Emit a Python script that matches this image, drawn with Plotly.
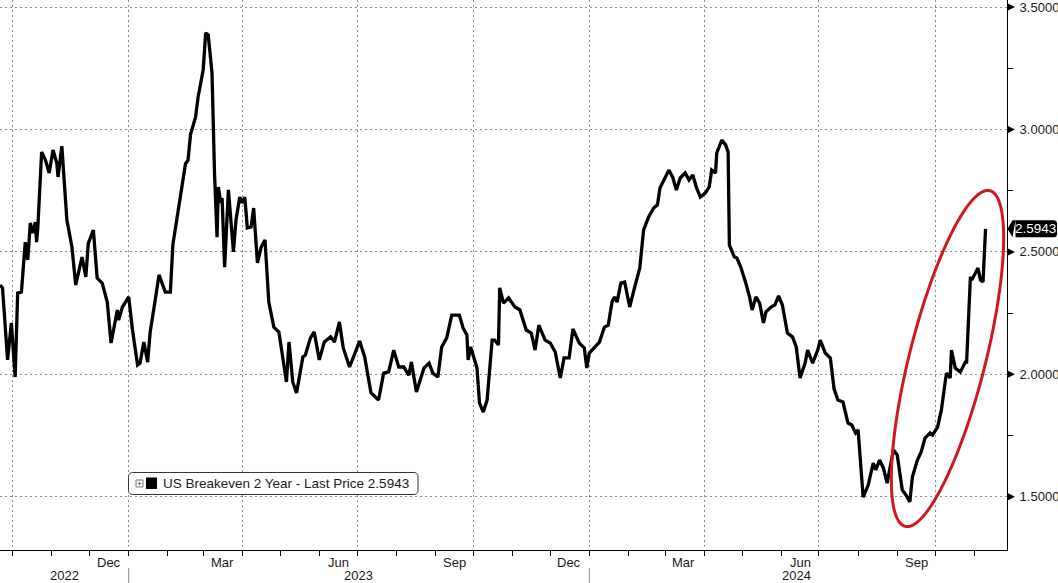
import numpy as np
import pandas as pd
import plotly.graph_objects as go

# ---------------- data ----------------
dates = [
    "2022-09-21", "2022-09-23", "2022-09-27", "2022-09-30", "2022-10-03", "2022-10-05", "2022-10-08",
    "2022-10-11", "2022-10-13", "2022-10-15", "2022-10-17", "2022-10-19", "2022-10-20", "2022-10-21",
    "2022-10-24", "2022-10-27", "2022-10-30", "2022-11-02", "2022-11-05", "2022-11-06", "2022-11-09",
    "2022-11-13", "2022-11-17", "2022-11-20", "2022-11-25", "2022-11-28", "2022-11-30", "2022-12-04",
    "2022-12-07", "2022-12-11", "2022-12-15", "2022-12-18", "2022-12-23", "2022-12-24", "2022-12-27",
    "2023-01-01", "2023-01-04", "2023-01-08", "2023-01-10", "2023-01-13", "2023-01-16", "2023-01-18",
    "2023-01-22", "2023-01-25", "2023-01-30", "2023-02-03", "2023-02-05", "2023-02-08", "2023-02-11",
    "2023-02-15", "2023-02-17", "2023-02-19", "2023-02-23", "2023-02-25", "2023-03-01", "2023-03-03",
    "2023-03-05", "2023-03-08", "2023-03-10", "2023-03-12", "2023-03-13", "2023-03-15", "2023-03-16",
    "2023-03-18", "2023-03-21", "2023-03-25", "2023-03-27", "2023-03-30", "2023-04-01", "2023-04-03",
    "2023-04-05", "2023-04-08", "2023-04-10", "2023-04-13", "2023-04-16", "2023-04-19", "2023-04-22",
    "2023-04-26", "2023-04-30", "2023-05-06", "2023-05-08", "2023-05-11", "2023-05-14", "2023-05-19",
    "2023-05-21", "2023-05-25", "2023-05-28", "2023-06-01", "2023-06-05", "2023-06-10", "2023-06-13",
    "2023-06-17", "2023-06-20", "2023-06-25", "2023-07-03", "2023-07-07", "2023-07-12", "2023-07-18",
    "2023-07-22", "2023-07-26", "2023-07-30", "2023-08-03", "2023-08-07", "2023-08-11", "2023-08-13",
    "2023-08-17", "2023-08-23", "2023-08-27", "2023-08-30", "2023-09-03", "2023-09-06", "2023-09-10",
    "2023-09-14", "2023-09-18", "2023-09-20", "2023-09-23", "2023-09-26", "2023-09-27", "2023-09-29",
    "2023-10-04", "2023-10-06", "2023-10-09", "2023-10-12", "2023-10-16", "2023-10-18", "2023-10-21",
    "2023-10-22", "2023-10-25", "2023-10-29", "2023-11-03", "2023-11-07", "2023-11-12", "2023-11-16",
    "2023-11-19", "2023-11-22", "2023-11-27", "2023-12-01", "2023-12-05", "2023-12-09", "2023-12-12",
    "2023-12-16", "2023-12-19", "2023-12-24", "2023-12-28", "2023-12-30",
    "2024-01-01", "2024-01-05", "2024-01-09", "2024-01-13", "2024-01-16", "2024-01-19", "2024-01-21",
    "2024-01-23", "2024-01-26", "2024-01-29", "2024-02-02", "2024-02-06", "2024-02-10", "2024-02-13",
    "2024-02-17", "2024-02-21", "2024-02-24", "2024-02-26", "2024-03-01", "2024-03-04", "2024-03-07",
    "2024-03-10", "2024-03-13", "2024-03-17", "2024-03-20", "2024-03-23", "2024-03-26", "2024-03-29",
    "2024-04-02", "2024-04-05", "2024-04-07", "2024-04-10", "2024-04-11", "2024-04-15", "2024-04-18",
    "2024-04-20", "2024-04-21", "2024-04-25", "2024-04-27", "2024-04-30", "2024-05-04", "2024-05-07",
    "2024-05-09", "2024-05-12", "2024-05-15", "2024-05-18", "2024-05-20", "2024-05-24", "2024-05-27",
    "2024-05-30", "2024-06-02", "2024-06-06", "2024-06-10", "2024-06-13", "2024-06-16", "2024-06-20",
    "2024-06-22", "2024-06-26", "2024-06-30", "2024-07-02", "2024-07-06", "2024-07-10", "2024-07-13",
    "2024-07-16", "2024-07-20", "2024-07-24", "2024-07-27", "2024-07-30", "2024-08-01", "2024-08-05",
    "2024-08-09", "2024-08-13", "2024-08-15", "2024-08-18", "2024-08-21", "2024-08-24", "2024-08-29",
    "2024-09-01", "2024-09-05", "2024-09-08", "2024-09-11", "2024-09-13", "2024-09-17", "2024-09-20",
    "2024-09-23", "2024-09-27", "2024-09-29", "2024-10-03", "2024-10-06", "2024-10-09", "2024-10-10",
    "2024-10-13", "2024-10-14", "2024-10-17", "2024-10-19", "2024-10-21", "2024-10-25", "2024-10-26",
    "2024-10-29", "2024-10-30", "2024-11-02", "2024-11-04", "2024-11-06", "2024-11-08", "2024-11-10",
]

values = [
    2.365, 2.353, 2.059, 2.210, 1.989, 2.332, 2.336,
    2.540, 2.467, 2.618, 2.577, 2.622, 2.540, 2.602,
    2.908, 2.875, 2.822, 2.916, 2.863, 2.806, 2.932,
    2.630, 2.520, 2.365, 2.479, 2.398, 2.536, 2.589,
    2.393, 2.373, 2.295, 2.128, 2.263, 2.222, 2.275,
    2.316, 2.181, 2.038, 2.046, 2.132, 2.050, 2.173,
    2.304, 2.406, 2.336, 2.336, 2.530, 2.630, 2.740,
    2.860, 2.875, 2.980, 3.051, 3.133, 3.243, 3.394,
    3.386, 3.231, 2.822, 2.560, 2.765, 2.700, 2.720,
    2.438, 2.753, 2.500, 2.630, 2.724, 2.700, 2.724,
    2.598, 2.602, 2.679, 2.455, 2.520, 2.549, 2.295,
    2.193, 2.173, 1.969, 2.132, 1.969, 1.924, 2.071,
    2.079, 2.149, 2.173, 2.059, 2.132, 2.153, 2.132,
    2.214, 2.108, 2.030, 2.136, 2.071, 1.924, 1.895,
    2.005, 2.010, 2.099, 2.030, 2.030, 1.997, 2.050,
    1.928, 2.026, 2.046, 2.005, 1.989, 2.112, 2.149,
    2.242, 2.242, 2.242, 2.189, 2.161, 2.059, 2.112,
    2.026, 1.883, 1.846, 1.895, 2.140, 2.140, 2.120,
    2.353, 2.291, 2.312, 2.275, 2.263, 2.181, 2.169,
    2.099, 2.201, 2.140, 2.128, 2.091, 1.985, 2.067,
    2.067, 2.185, 2.128, 2.108, 2.026,
    2.087, 2.112, 2.132, 2.193, 2.201, 2.295, 2.316,
    2.295, 2.373, 2.377, 2.275, 2.357, 2.434, 2.589,
    2.643, 2.679, 2.692, 2.761, 2.802, 2.834, 2.806,
    2.753, 2.802, 2.822, 2.794, 2.814, 2.761, 2.724,
    2.741, 2.765, 2.834, 2.822, 2.904, 2.957, 2.937,
    2.908, 2.528, 2.479, 2.475, 2.438, 2.373, 2.316,
    2.263, 2.316, 2.291, 2.210, 2.255, 2.275, 2.283,
    2.320, 2.283, 2.169, 2.153, 2.112, 1.985, 2.046,
    2.099, 2.046, 2.099, 2.140, 2.087, 2.067, 1.940,
    1.895, 1.887, 1.801, 1.793, 1.761, 1.773, 1.499,
    1.548, 1.638, 1.610, 1.650, 1.618, 1.556, 1.691,
    1.671, 1.528, 1.507, 1.479, 1.581, 1.650, 1.683,
    1.740, 1.761, 1.752, 1.785, 1.855, 1.965, 2.005,
    1.985, 2.099, 2.026, 2.018, 2.010, 2.050, 2.050,
    2.398, 2.385, 2.414, 2.434, 2.385, 2.377, 2.5943,
]

series_name = "US Breakeven 2 Year - Last Price 2.5943"
last_price = 2.5943
last_label = "2.5943"

y_ticks = [1.5, 2.0, 2.5, 3.0, 3.5]
y_minor_ticks = [1.75, 2.25, 2.75, 3.25]
y_range = [1.2828, 3.5286]
x_range = ["2022-09-21", "2024-11-27"]

quarter_ticks = ["2022-10-01", "2023-01-01", "2023-04-01", "2023-07-01", "2023-10-01",
                 "2024-01-01", "2024-04-01", "2024-07-01", "2024-10-01"]
month_ticks = ["2022-10-01", "2022-11-01", "2022-12-01", "2023-01-01", "2023-02-01", "2023-03-01",
               "2023-04-01", "2023-05-01", "2023-06-01", "2023-07-01", "2023-08-01", "2023-09-01",
               "2023-10-01", "2023-11-01", "2023-12-01", "2024-01-01", "2024-02-01", "2024-03-01",
               "2024-04-01", "2024-05-01", "2024-06-01", "2024-07-01", "2024-08-01", "2024-09-01",
               "2024-10-01", "2024-11-01"]
month_label_dates = ["2022-12-16", "2023-03-16", "2023-06-16", "2023-09-16",
                     "2023-12-16", "2024-03-16", "2024-06-16", "2024-09-16"]
month_labels = ["Dec", "Mar", "Jun", "Sep", "Dec", "Mar", "Jun", "Sep"]
year_label_dates = ["2022-11-11", "2023-07-02", "2024-06-13"]
year_labels = ["2022", "2023", "2024"]
year_breaks = ["2023-01-01", "2024-01-01"]

# ---------------- geometry helpers (decorations only) ----------------
W, H = 1058, 583
ML, MR, MT, MB = 0, 51, 0, 33
PW, PH = W - ML - MR, H - MT - MB

FONT = "Liberation Sans, Arial, sans-serif"
TXT = "#1a1a1a"
RED = "#cc1a1f"

xs0, xs1 = pd.Timestamp(x_range[0]), pd.Timestamp(x_range[1])


def date_px(d):
    return (pd.Timestamp(d) - xs0) / (xs1 - xs0) * PW


def val_px(v):
    return (y_range[1] - v) / (y_range[1] - y_range[0]) * PH


def fx(x):
    return x / PW


def fy(y):
    return (PH - y) / PH


def make_path(points, close=True):
    s = "M " + " L ".join(f"{fx(x):.5f},{fy(y):.5f}" for x, y in points)
    return s + (" Z" if close else "")


def rounded_rect(x0, y0, x1, y1, r, n=6):
    pts = []
    corners = [(x1 - r, y0 + r, -90, 0), (x1 - r, y1 - r, 0, 90),
               (x0 + r, y1 - r, 90, 180), (x0 + r, y0 + r, 180, 270)]
    for cx, cy, a0, a1 in corners:
        for a in np.linspace(np.radians(a0), np.radians(a1), n):
            pts.append((cx + r * np.cos(a), cy + r * np.sin(a)))
    return pts


shapes = []

# y-axis tick triangles
for v in y_ticks:
    yc = val_px(v)
    shapes.append(dict(type="path", xref="paper", yref="paper",
                       path=make_path([(PW, yc - 4), (PW + 8, yc), (PW, yc + 4)]),
                       fillcolor="black", line=dict(width=0), layer="above"))

# year separators below the axis
for d in year_breaks:
    xp = date_px(d)
    shapes.append(dict(type="line", xref="paper", yref="paper",
                       x0=fx(xp), x1=fx(xp), y0=fy(PH + 18), y1=fy(PH + 34),
                       line=dict(color="#8a8a8a", width=1)))

# last price tag
yc = val_px(last_price)
tag = [(PW + 0.5, yc), (PW + 5.5, yc - 8.5)]
tag += [p for p in rounded_rect(PW + 5.5, yc - 8.5, W - 1, yc + 8.5, 3)
        if p[0] > PW + 8]
tag += [(PW + 5.5, yc + 8.5)]
shapes.append(dict(type="path", xref="paper", yref="paper", path=make_path(tag),
                   fillcolor="black", line=dict(width=0), layer="above"))

# red ellipse highlight
cx, cy, a, b = 947.5, 358.5, 173.0, 38.0
ux, uy = 0.245, -0.970
nx, ny = 0.970, 0.245
t = np.linspace(0, 2 * np.pi, 160)
ell = [(cx + a * np.cos(tt) * ux + b * np.sin(tt) * nx,
        cy + a * np.cos(tt) * uy + b * np.sin(tt) * ny) for tt in t]
shapes.append(dict(type="path", xref="paper", yref="paper", path=make_path(ell),
                   line=dict(color=RED, width=3), layer="above"))

# legend box
shapes.append(dict(type="path", xref="paper", yref="paper",
                   path=make_path(rounded_rect(128.5, 472.5, 418, 494.5, 4)),
                   fillcolor="white", line=dict(color="#333333", width=1), layer="above"))
shapes.append(dict(type="rect", xref="paper", yref="paper",
                   x0=fx(136), x1=fx(143), y0=fy(487), y1=fy(480),
                   fillcolor="white", line=dict(color="#777777", width=1), layer="above"))
shapes.append(dict(type="path", xref="paper", yref="paper",
                   path=make_path([(137.5, 483.5), (141.5, 483.5)], close=False) + " " +
                   make_path([(139.5, 481.5), (139.5, 485.5)], close=False),
                   line=dict(color="#777777", width=1), layer="above"))
shapes.append(dict(type="rect", xref="paper", yref="paper",
                   x0=fx(146), x1=fx(157), y0=fy(489), y1=fy(477.5),
                   fillcolor="black", line=dict(width=0), layer="above"))

annotations = []
for d, lab in zip(month_label_dates, month_labels):
    annotations.append(dict(x=d, xref="x", y=0, yref="paper", yanchor="top", yshift=-3,
                            text=lab, showarrow=False, font=dict(family=FONT, size=13, color=TXT)))
for d, lab in zip(year_label_dates, year_labels):
    annotations.append(dict(x=d, xref="x", y=0, yref="paper", yanchor="top", yshift=-16,
                            text=lab, showarrow=False, font=dict(family=FONT, size=13, color=TXT)))
annotations.append(dict(x=fx(161), xref="paper", y=fy(483.5), yref="paper",
                        xanchor="left", yanchor="middle", text=series_name, showarrow=False,
                        font=dict(family=FONT, size=13.5, color=TXT)))
annotations.append(dict(x=fx(PW + 28), xref="paper", y=fy(yc), yref="paper",
                        xanchor="center", yanchor="middle", text=last_label, showarrow=False,
                        font=dict(family=FONT, size=13.5, color="white")))

fig = go.Figure()
fig.add_trace(go.Scatter(x=dates, y=values, mode="lines", name=series_name,
                         line=dict(color="black", width=3.3), showlegend=False,
                         hoverinfo="x+y"))

GRID = "#8c8c8c"
fig.update_layout(
    template="none",
    width=W, height=H, autosize=False,
    margin=dict(l=ML, r=MR, t=MT, b=MB, pad=0),
    paper_bgcolor="white", plot_bgcolor="white",
    showlegend=False,
    font=dict(family=FONT, size=13, color=TXT),
    xaxis=dict(
        type="date", range=x_range,
        tickmode="array", tickvals=quarter_ticks, showticklabels=False,
        ticks="outside", ticklen=5, tickcolor="black", tickwidth=1,
        showgrid=True, gridcolor=GRID, griddash="2px,3px", gridwidth=1,
        showline=True, linecolor="black", linewidth=1, zeroline=False,
        minor=dict(tickmode="array", tickvals=month_ticks, ticks="outside", ticklen=5,
                   tickcolor="black", tickwidth=1, showgrid=False),
    ),
    yaxis=dict(
        range=y_range, side="right",
        tickmode="array", tickvals=y_ticks, ticktext=[f"{v:.4f}" for v in y_ticks],
        ticks="", ticklabelstandoff=9, ticklabeloverflow="allow",
        showgrid=True, gridcolor=GRID, griddash="2px,3px", gridwidth=1,
        showline=True, linecolor="black", linewidth=1, zeroline=False,
        tickfont=dict(family=FONT, size=13, color=TXT),
        minor=dict(tickmode="array", tickvals=y_minor_ticks, ticks="outside", ticklen=5,
                   tickcolor="black", tickwidth=1, showgrid=False),
    ),
    shapes=shapes,
    annotations=annotations,
)

fig.write_html("out.html",
               config={"displayModeBar": False},
               post_script="document.body.style.margin='0';document.body.style.overflow='hidden';")
